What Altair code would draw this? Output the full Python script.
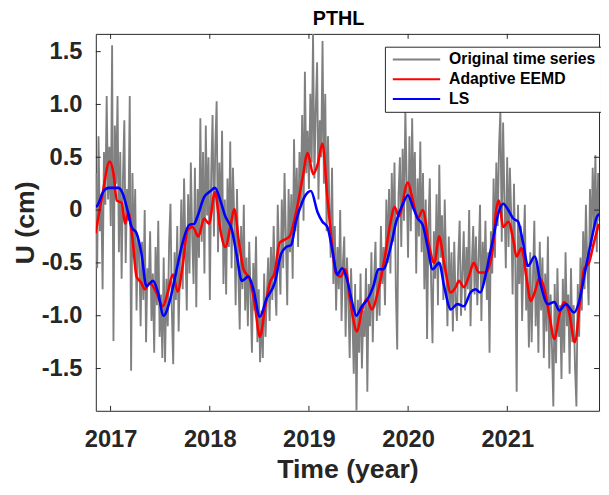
import altair as alt
import numpy as np
import pandas as pd

FONT = "Liberation Sans"
TXT = "#262626"

# ---------------- data ----------------
series_names = ["Original time series", "Adaptive EEMD", "LS"]
series_colors = ["#808080", "#ff0000", "#0000ff"]

x_ticks = [2017, 2018, 2019, 2020, 2021]
y_ticks = [-1.5, -1.0, -0.5, 0.0, 0.5, 1.0, 1.5]
X_DOMAIN = [2016.851, 2021.925]
Y_DOMAIN = [-1.9, 1.668]

# original series: sampled every 5 days starting at gray_start
gray_start = 2016.851
gray_step_days = 5
gray_vals = [
    0.35, -0.55, 0.70, -0.20, 0.15, -0.75, 0.55, 0.05,
    1.08, 0.10, 0.60, -0.15, 1.56, -1.24, 0.80, 0.25,
    1.08, -0.40, 0.55, -0.65, 0.30, 0.85, -0.50, 0.20,
    -0.10, 1.08, -1.52, 0.35, -0.45, 0.20, -0.95, -0.25,
    -0.40, -1.10, -0.30, -0.85, 0.00, -1.25, -0.55, -0.70,
    -0.20, -1.05, -0.60, -1.35, -0.35, -0.90, -0.10, -1.20,
    -0.80, -1.40, -0.45, -1.44, -0.65, -1.10, -0.30, 0.06,
    -0.95, -1.46, -0.40, -0.85, -0.15, -1.15, -0.50, 0.10,
    -0.75, 0.30, -0.35, -0.95, 0.15, -0.60, 0.45, -0.25,
    -0.70, 0.40, -0.92, 0.20, -0.45, 0.87, -0.30, 0.55,
    -0.60, 0.80, -0.05, 0.50, -0.85, 0.35, 0.90, -0.25,
    0.60, 1.03, -0.40, 0.45, -0.20, 0.75, -0.70, 0.10,
    -0.80, 0.30, -0.35, 0.65, -0.55, 0.40, -0.10, -0.90,
    0.20, -0.60, -1.13, -0.15, -0.75, 0.05, -0.95, -0.45,
    -1.10, -0.30, -0.80, -1.35, -0.50, -0.95, -0.25, -1.25,
    -0.75, -1.44, -0.95, -1.40, -0.60, -1.20, -0.80, -0.45,
    -1.05, -0.35, -0.85, -0.15, -0.70, -1.00, 0.05, -0.45,
    -0.80, 0.10, -0.55, 0.35, -0.25, -0.90, 0.20, -0.40,
    0.15, -0.65, 0.67, -0.20, 0.40, -0.35, 0.55, 0.05,
    0.90, -0.10, 1.31, 0.35, 0.75, 0.20, 1.10, 0.45,
    1.67, 0.30, 0.95, 1.40, 0.10, 0.85, 0.50, 1.60,
    0.25, 1.10, -0.20, 0.70, 0.05, -0.45, 0.40, -0.70,
    -0.15, -0.95, -0.35, -0.75, 0.00, -1.05, -0.50, -0.25,
    -1.20, -0.45, -0.85, -1.40, -0.55, -1.00, -1.55, -0.70,
    -1.90, -0.85, -1.35, -0.60, -1.50, -0.95, -1.20, -0.55,
    -1.72, -0.70, -1.10, -0.40, -1.25, -0.65, -0.30, -1.05,
    -0.55, -1.00, -0.15, -0.70, -0.35, -0.90, 0.10, -0.50,
    0.20, -0.60, 0.35, -0.30, 0.45, -0.75, -1.32, 0.15,
    0.50, -0.35, 0.58, -0.10, 0.95, 0.25, -0.45, 0.70,
    -0.20, 0.87, 0.05, 0.55, -0.60, 0.30, -0.25, 0.65,
    -0.40, 0.35, -0.75, 0.10, -1.22, -0.15, 0.30, -0.70,
    -1.26, -0.20, -0.65, 0.15, -0.90, 0.43, -0.45, -0.05,
    -0.85, 0.10, -0.50, -1.10, -0.25, -0.95, -0.40, -1.15,
    -0.30, -0.85, -1.05, -0.45, -0.10, -1.00, -0.60, -0.20,
    -0.95, -0.35, -0.75, 0.00, -1.10, -0.50, -0.15, -0.80,
    -0.25, -0.90, -0.45, 0.05, -1.05, -0.30, -0.70, -0.10,
    -0.85, -0.40, -1.35, -0.20, -0.60, 0.30, -0.45, 0.45,
    -0.15, 0.60, 0.94, -0.30, 0.83, 0.10, -0.55, 0.50,
    -0.35, 0.40, -0.05, -0.80, 0.25, -0.50, -1.72, 0.05,
    -0.70, -0.15, -1.05, -0.40, 0.05, -0.95, -0.55, -1.30,
    -0.40, -1.25, -0.65, -0.10, -1.10, -0.50, -1.35, -0.30,
    -0.95, -0.45, -1.40, -0.60, -1.15, -0.25, -1.50, -0.80,
    -1.30, -1.86, -0.70, -1.45, -0.55, -1.20, -0.90, -1.60,
    -0.65, -1.35, -0.40, -1.10, -0.80, -1.55, -0.55, -1.25,
    -0.90, -1.50, -1.86, -0.70, -1.20, -0.45, -0.95, -0.20,
    -0.75, 0.05, -0.50, -0.90, 0.20, -0.35, 0.40, -0.15,
    0.52, -0.40, 0.35, -0.10,
]

red_t = [2016.848, 2016.913, 2016.990, 2017.030, 2017.063, 2017.112, 2017.146, 2017.179,
         2017.222, 2017.262, 2017.311, 2017.345, 2017.395, 2017.461, 2017.527, 2017.577,
         2017.627, 2017.677, 2017.726, 2017.776, 2017.826, 2017.886, 2017.942, 2017.992,
         2018.052, 2018.107, 2018.157, 2018.207, 2018.247, 2018.291, 2018.340, 2018.406,
         2018.456, 2018.505, 2018.555, 2018.605, 2018.655, 2018.704, 2018.754, 2018.804,
         2018.871, 2018.937, 2018.987, 2019.043, 2019.087, 2019.136, 2019.186, 2019.236,
         2019.269, 2019.318, 2019.368, 2019.418, 2019.485, 2019.534, 2019.584, 2019.634,
         2019.700, 2019.766, 2019.816, 2019.865, 2019.905, 2019.998, 2020.048, 2020.098,
         2020.147, 2020.214, 2020.264, 2020.313, 2020.363, 2020.430, 2020.480, 2020.512,
         2020.562, 2020.612, 2020.662, 2020.711, 2020.778, 2020.828, 2020.861, 2020.881,
         2020.913, 2020.960, 2021.010, 2021.060, 2021.093, 2021.143, 2021.192, 2021.236,
         2021.276, 2021.325, 2021.375, 2021.425, 2021.475, 2021.524, 2021.574, 2021.624,
         2021.680, 2021.733, 2021.773, 2021.823, 2021.873, 2021.922]
red_v = [-0.22, 0.12, 0.46, 0.34, 0.09, 0.07, -0.13, -0.02,
         -0.28, -0.63, -0.69, -0.75, -0.69, -0.78, -0.91, -0.78,
         -0.61, -0.77, -0.53, -0.19, -0.16, -0.25, -0.08, -0.13,
         0.17, -0.19, -0.35, -0.16, 0.01, -0.28, -0.56, -0.66,
         -0.91, -1.20, -0.94, -0.69, -0.59, -0.31, -0.28, -0.25,
         -0.02, 0.31, 0.54, 0.34, 0.43, 0.63, 0.12, -0.35,
         -0.59, -0.63, -0.56, -0.87, -1.15, -0.95, -0.84, -0.94,
         -0.75, -0.44, -0.15, 0.03, -0.06, 0.26, 0.09, -0.08,
         0.00, -0.35, -0.50, -0.25, -0.50, -0.78, -0.73, -0.67,
         -0.73, -0.63, -0.50, -0.59, -0.59, -0.50, -0.30, -0.06,
         0.09, -0.16, -0.11, -0.28, -0.44, -0.36, -0.63, -0.86,
         -0.78, -0.64, -0.75, -1.00, -1.22, -1.00, -0.87, -0.97,
         -1.25, -0.87, -0.56, -0.50, -0.31, -0.13]

blue_t = [2016.851, 2016.864, 2016.930, 2016.980, 2017.080, 2017.129, 2017.162, 2017.212,
          2017.262, 2017.311, 2017.361, 2017.428, 2017.478, 2017.534, 2017.594, 2017.660,
          2017.726, 2017.793, 2017.843, 2017.876, 2017.942, 2018.008, 2018.052, 2018.107,
          2018.157, 2018.224, 2018.274, 2018.323, 2018.390, 2018.440, 2018.505, 2018.572,
          2018.655, 2018.721, 2018.771, 2018.821, 2018.871, 2018.930, 2018.953, 2019.020,
          2019.087, 2019.136, 2019.186, 2019.236, 2019.286, 2019.335, 2019.385, 2019.435,
          2019.478, 2019.534, 2019.600, 2019.650, 2019.700, 2019.749, 2019.816, 2019.883,
          2019.948, 2019.998, 2020.048, 2020.098, 2020.147, 2020.197, 2020.247, 2020.313,
          2020.363, 2020.430, 2020.496, 2020.562, 2020.629, 2020.679, 2020.728, 2020.778,
          2020.828, 2020.861, 2020.910, 2020.960, 2021.010, 2021.060, 2021.109, 2021.159,
          2021.209, 2021.276, 2021.341, 2021.408, 2021.475, 2021.524, 2021.590, 2021.674,
          2021.723, 2021.789, 2021.856, 2021.905, 2021.945]
blue_v = [0.03, 0.04, 0.18, 0.21, 0.21, 0.14, 0.03, -0.16,
          -0.22, -0.41, -0.72, -0.67, -0.78, -1.00, -0.87, -0.59,
          -0.31, -0.14, -0.13, -0.06, 0.12, 0.18, 0.21, 0.09,
          -0.06, -0.19, -0.44, -0.67, -0.63, -0.75, -1.01, -0.84,
          -0.69, -0.41, -0.35, -0.33, -0.10, 0.07, 0.12, 0.18,
          -0.02, -0.11, -0.16, -0.38, -0.61, -0.55, -0.66, -0.87,
          -1.00, -0.91, -0.83, -0.72, -0.56, -0.56, -0.38, -0.10,
          0.06, 0.14, 0.03, -0.08, -0.14, -0.35, -0.56, -0.50,
          -0.72, -0.94, -0.89, -0.91, -0.78, -0.75, -0.78, -0.63,
          -0.40, -0.25, -0.03, 0.06, 0.00, -0.08, -0.11, -0.31,
          -0.53, -0.44, -0.72, -0.89, -0.87, -0.95, -0.89, -0.97,
          -0.87, -0.56, -0.25, -0.06, -0.03]

# ---------------- frames ----------------
gray_t = gray_start + np.arange(len(gray_vals)) * gray_step_days / 365.25
df_gray = pd.DataFrame({"t": gray_t, "v": gray_vals, "series": series_names[0]})
df_red = pd.DataFrame({"t": red_t, "v": red_v, "series": series_names[1]})
df_blue = pd.DataFrame({"t": blue_t, "v": blue_v, "series": series_names[2]})
df_xt = pd.DataFrame({"t": x_ticks})
df_yt = pd.DataFrame({"v": y_ticks})

W, H = 510, 382
TICK = 5

x_enc = alt.X(
    "t:Q",
    scale=alt.Scale(domain=X_DOMAIN, nice=False, zero=False),
    axis=alt.Axis(values=x_ticks, format="d", title="Time (year)",
                  labelPadding=17, titleY=68, titleBaseline="alphabetic"),
)
y_enc = alt.Y(
    "v:Q",
    scale=alt.Scale(domain=Y_DOMAIN, nice=False, zero=False),
    axis=alt.Axis(values=y_ticks, title="U (cm)", labelPadding=14,
                  labelExpr="datum.value == 0 ? '0' : (datum.value < 0 ? '-' : '') + format(abs(datum.value), '.1f')",
                  titleX=-63, titleY=H / 2, titleAngle=270, titleAlign="center",
                  titleBaseline="alphabetic"),
)
color_enc = alt.Color(
    "series:N",
    scale=alt.Scale(domain=series_names, range=series_colors),
    legend=alt.Legend(title=None),
)

gray = alt.Chart(df_gray).mark_line(strokeWidth=1.9, clip=True).encode(x=x_enc, y=y_enc, color=color_enc)
red = alt.Chart(df_red).mark_line(strokeWidth=2.6, interpolate="monotone", clip=True).encode(x=x_enc, y=y_enc, color=color_enc)
blue = alt.Chart(df_blue).mark_line(strokeWidth=2.6, interpolate="monotone", clip=True).encode(x=x_enc, y=y_enc, color=color_enc)

tick_style = dict(color=TXT, strokeWidth=1)
xt_bottom = alt.Chart(df_xt).mark_rule(**tick_style).encode(x=x_enc, y=alt.value(H), y2=alt.value(H - TICK))
xt_top = alt.Chart(df_xt).mark_rule(**tick_style).encode(x=x_enc, y=alt.value(0), y2=alt.value(TICK))
yt_left = alt.Chart(df_yt).mark_rule(**tick_style).encode(y=y_enc, x=alt.value(0), x2=alt.value(TICK))
yt_right = alt.Chart(df_yt).mark_rule(**tick_style).encode(y=y_enc, x=alt.value(W), x2=alt.value(W - TICK))

chart = (
    alt.layer(gray, red, blue, xt_bottom, xt_top, yt_left, yt_right)
    .properties(
        width=W,
        height=H,
        title=alt.TitleParams("PTHL", font=FONT, fontSize=20, fontWeight="bold",
                              color="#000000", anchor="middle", dx=-9, offset=4),
        autosize=alt.AutoSizeParams(type="none"),
        padding={"left": 89, "top": 23, "right": 2, "bottom": 74},
    )
    .configure_view(stroke=TXT, strokeWidth=1)
    .configure_axis(grid=False, ticks=False, tickSize=0, domain=False,
                    labelFont=FONT, labelFontWeight="bold", labelFontSize=24, labelColor=TXT,
                    titleFont=FONT, titleFontWeight="bold", titleFontSize=27, titleColor=TXT)
    .configure_legend(orient="none", legendX=293, legendY=13, fillColor="white",
                      strokeColor=TXT, padding=5, cornerRadius=0,
                      labelFont=FONT, labelFontWeight="bold", labelFontSize=16,
                      labelColor="#000000", labelLimit=400,
                      symbolType="M-4.8,0H4.8", symbolSize=100, symbolStrokeWidth=2,
                      symbolOffset=19, labelOffset=25, rowPadding=4)
)

chart.save("out.html", embed_options={"renderer": "svg", "actions": False})
